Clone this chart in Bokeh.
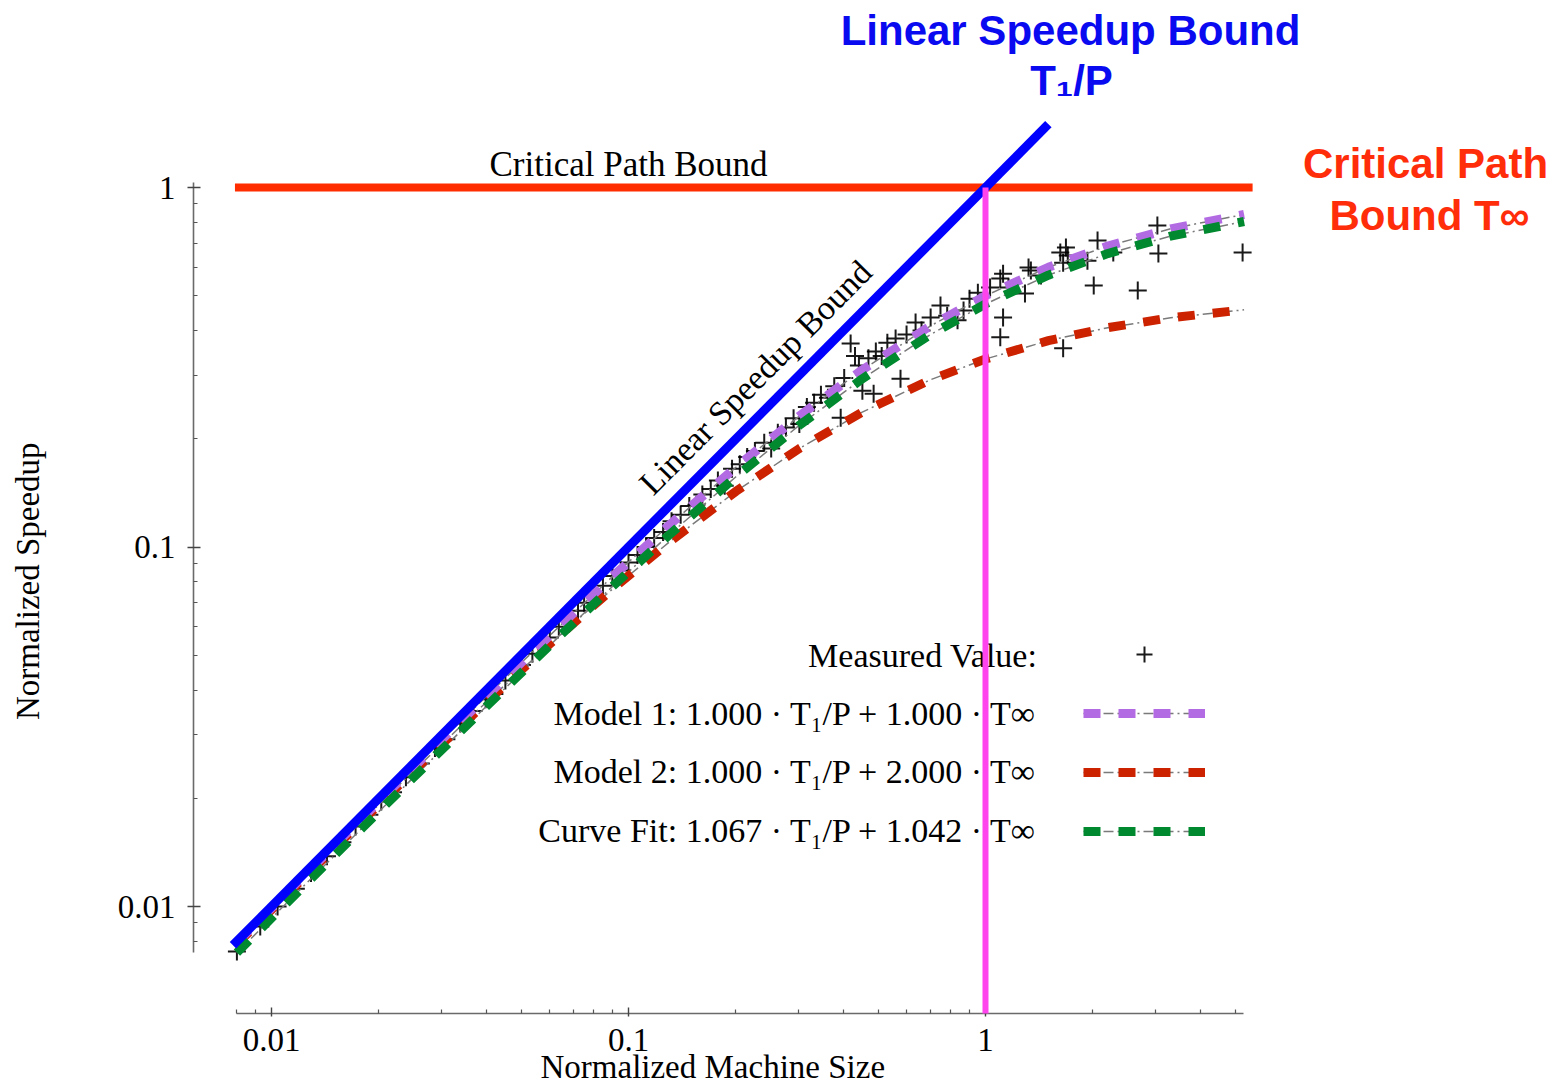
import math
from bokeh.plotting import figure
from bokeh.models import (Range1d, FixedTicker, CustomJSTickFormatter, Label,
                          Legend, LegendItem, Title)
from bokeh.core.properties import value
from bokeh.embed import file_html
from bokeh.resources import INLINE

# ---------------- data ----------------
# measured values (normalized machine size, normalized speedup)
meas_x = [0.0080, 0.0093, 0.0104, 0.0117, 0.0129, 0.0143, 0.0158, 0.0172, 0.0188, 0.0203,
          0.0219, 0.0238, 0.0262, 0.0287, 0.0309, 0.0338, 0.0368, 0.0398, 0.0421, 0.0452,
          0.0478, 0.0503, 0.0538, 0.0571, 0.0602, 0.0638, 0.0679, 0.0722, 0.0751, 0.0802,
          0.0848, 0.0901, 0.0953, 0.1000, 0.106, 0.112, 0.118, 0.125, 0.132, 0.140,
          0.148, 0.155, 0.161, 0.170, 0.178, 0.186, 0.195, 0.205, 0.215, 0.226,
          0.240, 0.251, 0.262, 0.276, 0.290, 0.301, 0.316, 0.331, 0.346, 0.362,
          0.377, 0.393, 0.402, 0.419, 0.431, 0.442, 0.452, 0.470, 0.486, 0.493,
          0.512, 0.531, 0.560, 0.578, 0.601, 0.637, 0.662, 0.702, 0.748, 0.781,
          0.835, 0.868, 0.902, 0.952, 1.03, 1.10, 1.10, 1.12, 1.12, 1.16,
          1.29, 1.32, 1.34, 1.43, 1.62, 1.65, 1.65, 1.68, 1.70, 1.93,
          2.01, 2.06, 2.28, 2.67, 3.03, 3.05, 5.25]
meas_y = [0.0075, 0.0088, 0.0100, 0.0112, 0.0124, 0.0138, 0.0151, 0.0167, 0.0180, 0.0196,
          0.0208, 0.0229, 0.0250, 0.0276, 0.0292, 0.0323, 0.0350, 0.0377, 0.0390, 0.0425,
          0.0455, 0.0470, 0.0505, 0.0540, 0.0560, 0.0600, 0.0630, 0.0665, 0.0700, 0.0735,
          0.0780, 0.0830, 0.0860, 0.0905, 0.0950, 0.1000, 0.1060, 0.1100, 0.1180, 0.1230,
          0.1300, 0.1310, 0.1400, 0.1450, 0.1530, 0.1480, 0.1650, 0.1700, 0.1780, 0.1850,
          0.1950, 0.1880, 0.2080, 0.2150, 0.2280, 0.2200, 0.2450, 0.2520, 0.2650, 0.2600,
          0.2800, 0.2290, 0.2950, 0.3680, 0.3400, 0.3200, 0.2720, 0.3350, 0.2670, 0.3500,
          0.3400, 0.3700, 0.3800, 0.2940, 0.3900, 0.4210, 0.4000, 0.4350, 0.4700, 0.4400,
          0.4270, 0.4550, 0.4900, 0.5100, 0.527, 0.558, 0.383, 0.576, 0.435, 0.527,
          0.507, 0.599, 0.588, 0.569, 0.659, 0.618, 0.357, 0.681, 0.647, 0.626,
          0.534, 0.712, 0.659, 0.517, 0.784, 0.655, 0.659]

# model curves, values
model_x = [0.008, 0.012, 0.018, 0.027, 0.04, 0.06, 0.09, 0.13, 0.2, 0.3, 0.45, 0.7,
           1.0, 1.5, 2.2, 3.3, 5.3]
model1_y = [0.00794, 0.01186, 0.01768, 0.02629, 0.03846, 0.05660, 0.08257, 0.11504,
            0.16667, 0.23077, 0.31034, 0.41176, 0.5, 0.6, 0.6875, 0.76744, 0.84127]
model2_y = [0.00787, 0.01172, 0.01737, 0.02562, 0.03704, 0.05357, 0.07627, 0.10317,
            0.14286, 0.1875, 0.23684, 0.29167, 0.33333, 0.375, 0.40741, 0.43421, 0.45690]
fit_y = [0.00744, 0.01112, 0.01658, 0.02465, 0.03608, 0.05312, 0.07753, 0.10811,
         0.15682, 0.21745, 0.29299, 0.38967, 0.47416, 0.57034, 0.65488, 0.73242, 0.80430]

# bounds
linear_x = [0.0078, 1.5]            # linear speedup bound: speedup = machine size
critical_x = [0.0079, 5.6]          # critical path bound: speedup = 1
critical_y = [1.0, 1.0]
balance_x = 1.0                     # machine size where the two bounds meet

x_ticks = [0.01, 0.1, 1]
y_ticks = [0.01, 0.1, 1]

legend_texts = ["Measured Value:",
                "Model 1: 1.000 \u00b7 T\u2081/P + 1.000 \u00b7 T\u221e",
                "Model 2: 1.000 \u00b7 T\u2081/P + 2.000 \u00b7 T\u221e",
                "Curve Fit: 1.067 \u00b7 T\u2081/P + 1.042 \u00b7 T\u221e"]

# ---------------- geometry ----------------
W, H = 1556, 1087
FL, FB = 193, 1013                 # frame left / bottom (page pixels)
DEC_X, DEC_Y = 357.0, 359.5        # pixels per decade
X1_PIX, Y1_PIX = 985, 187          # pixel of value 1 on each axis
x_start = 10 ** ((FL - X1_PIX) / DEC_X)
x_end = 10 ** ((W - X1_PIX) / DEC_X)
y_start = 10 ** (-(FB - Y1_PIX) / DEC_Y)
y_end = 10 ** (Y1_PIX / DEC_Y)

SERIF = "Liberation Serif"
SANS = "Liberation Sans"

p = figure(width=W, height=H, x_axis_type="log", y_axis_type="log",
           x_range=Range1d(x_start, x_end), y_range=Range1d(y_start, y_end),
           output_backend="svg", toolbar_location=None,
           min_border_left=FL, min_border_right=0, min_border_top=0,
           min_border_bottom=H - FB)
p.grid.visible = False
p.outline_line_color = None
p.background_fill_color = "white"

minor_x = [0.008, 0.009] + [k * 0.01 for k in range(2, 10)] + \
          [k * 0.1 for k in range(2, 10)] + [2, 3, 4, 5]
minor_y = [0.008, 0.009] + [k * 0.01 for k in range(2, 10)] + \
          [k * 0.1 for k in range(2, 10)]
fmt = CustomJSTickFormatter(code="return tick.toString();")

xa = p.xaxis[0]
xa.ticker = FixedTicker(ticks=x_ticks, minor_ticks=minor_x)
xa.formatter = fmt
xa.bounds = (0.0080, 5.28)
ya = p.yaxis[0]
ya.ticker = FixedTicker(ticks=y_ticks, minor_ticks=minor_y)
ya.formatter = fmt
ya.bounds = (0.00745, 1.03)

for ax in (xa, ya):
    ax.axis_line_color = "#6a6a6a"
    ax.axis_line_width = 1.6
    ax.major_tick_line_color = "#444444"
    ax.minor_tick_line_color = "#555555"
    ax.major_tick_line_width = 1.4
    ax.minor_tick_line_width = 1.2
    ax.major_label_text_font = SERIF
    ax.major_label_text_font_size = "33px"
    ax.major_label_text_color = "black"
    ax.minor_tick_out = 0
    ax.minor_tick_in = 4
    ax.axis_label_text_font = SERIF
    ax.axis_label_text_font_size = "33px"
    ax.axis_label_text_font_style = "normal"
    ax.axis_label_text_color = "black"
xa.major_tick_in = 6
xa.major_tick_out = 3
xa.major_label_standoff = 12
ya.major_tick_in = 7
ya.major_tick_out = 6
ya.major_label_standoff = 12
# the original plot box is taller than this frame: pad the label so that it sits
# centred on the original box (trailing no-break spaces are invisible)
ya.axis_label = "Normalized Speedup" + "\u00a0" * 18
ya.axis_label_standoff = 69

# x-axis title, left-aligned below the axis (the original plot box ends near x = 5.3)
p.add_layout(Title(text="Normalized Machine Size", align="left", offset=540 - FL,
                   standoff=-14, text_font=SERIF, text_font_size="33px",
                   text_font_style="normal", text_color="black"), "below")

# ---------------- marks ----------------
meas = p.scatter(meas_x, meas_y, marker="cross", size=18, line_color="black",
                 line_width=2, line_alpha=0.9)

grey = dict(line_color="#7a7a7a", line_width=1.5, line_dash="10 4 2 4")
g2 = p.line(model_x, model2_y, **grey)
g1 = p.line(model_x, model1_y, **grey)
g3 = p.line(model_x, fit_y, **grey)

dash = dict(line_width=9, line_dash="17 18", line_cap="butt")
r2 = p.line(model_x, model2_y, line_color="#CC2200", **dash)
r1 = p.line(model_x, model1_y, line_color="#B36BE3", **dash)
r3 = p.line(model_x, fit_y, line_color="#00892F", **dash)

p.line(critical_x, critical_y, line_color="#FF2D00", line_width=8)
p.line(linear_x, linear_x, line_color="#0000FF", line_width=9)
p.segment(x0=[balance_x], y0=[y_start], x1=[balance_x], y1=[critical_y[0]],
          line_color="#FF44EE", line_width=6, level="overlay")

# ---------------- legend (samples) ----------------
legend = Legend(items=[LegendItem(label=value(""), renderers=[meas]),
                       LegendItem(label=value(""), renderers=[g1, r1]),
                       LegendItem(label=value(""), renderers=[g2, r2]),
                       LegendItem(label=value(""), renderers=[g3, r3])],
                location=(890, 162), glyph_width=122, glyph_height=40,
                label_width=0, label_height=40, label_standoff=0, spacing=19,
                padding=0, margin=0, border_line_color=None,
                background_fill_alpha=0, label_text_font_size="1px")
p.add_layout(legend)


def scr(px, py):
    """page pixel -> frame screen units"""
    return px - FL, FB - py


row_y = [655, 713, 771, 830]
for txt, py in zip(legend_texts, row_y):
    sx, sy = scr(1037, py)
    p.add_layout(Label(x=sx, y=sy, x_units="screen", y_units="screen", text=txt,
                       text_font=SERIF, text_font_size="34px", text_align="right",
                       text_baseline="middle", text_color="black"))

# ---------------- annotations ----------------
sx, sy = scr(628, 164)
p.add_layout(Label(x=sx, y=sy, x_units="screen", y_units="screen",
                   text="Critical Path Bound",
                   text_font=SERIF, text_font_size="35px", text_align="center",
                   text_baseline="middle", text_color="black"))
sx, sy = scr(755, 377)
p.add_layout(Label(x=sx, y=sy, x_units="screen", y_units="screen",
                   text="Linear Speedup Bound", angle=45.2, angle_units="deg",
                   text_font=SERIF, text_font_size="34px", text_align="center",
                   text_baseline="middle", text_color="black"))

big = dict(x_units="screen", y_units="screen", text_font=SANS, text_font_size="42px",
           text_font_style="bold", text_align="center", text_baseline="middle")
for txt, px, py, col in [("Linear Speedup Bound", 1070, 30, "#0A0AF0"),
                         ("T\u2081/P", 1071, 80, "#0A0AF0"),
                         ("Critical Path", 1425, 163, "#FF2D0A"),
                         ("Bound T\u221e", 1429, 215, "#FF2D0A")]:
    sx, sy = scr(px, py)
    p.add_layout(Label(x=sx, y=sy, text=txt, text_color=col, **big))

open("out.html", "w").write(file_html(p, INLINE))
